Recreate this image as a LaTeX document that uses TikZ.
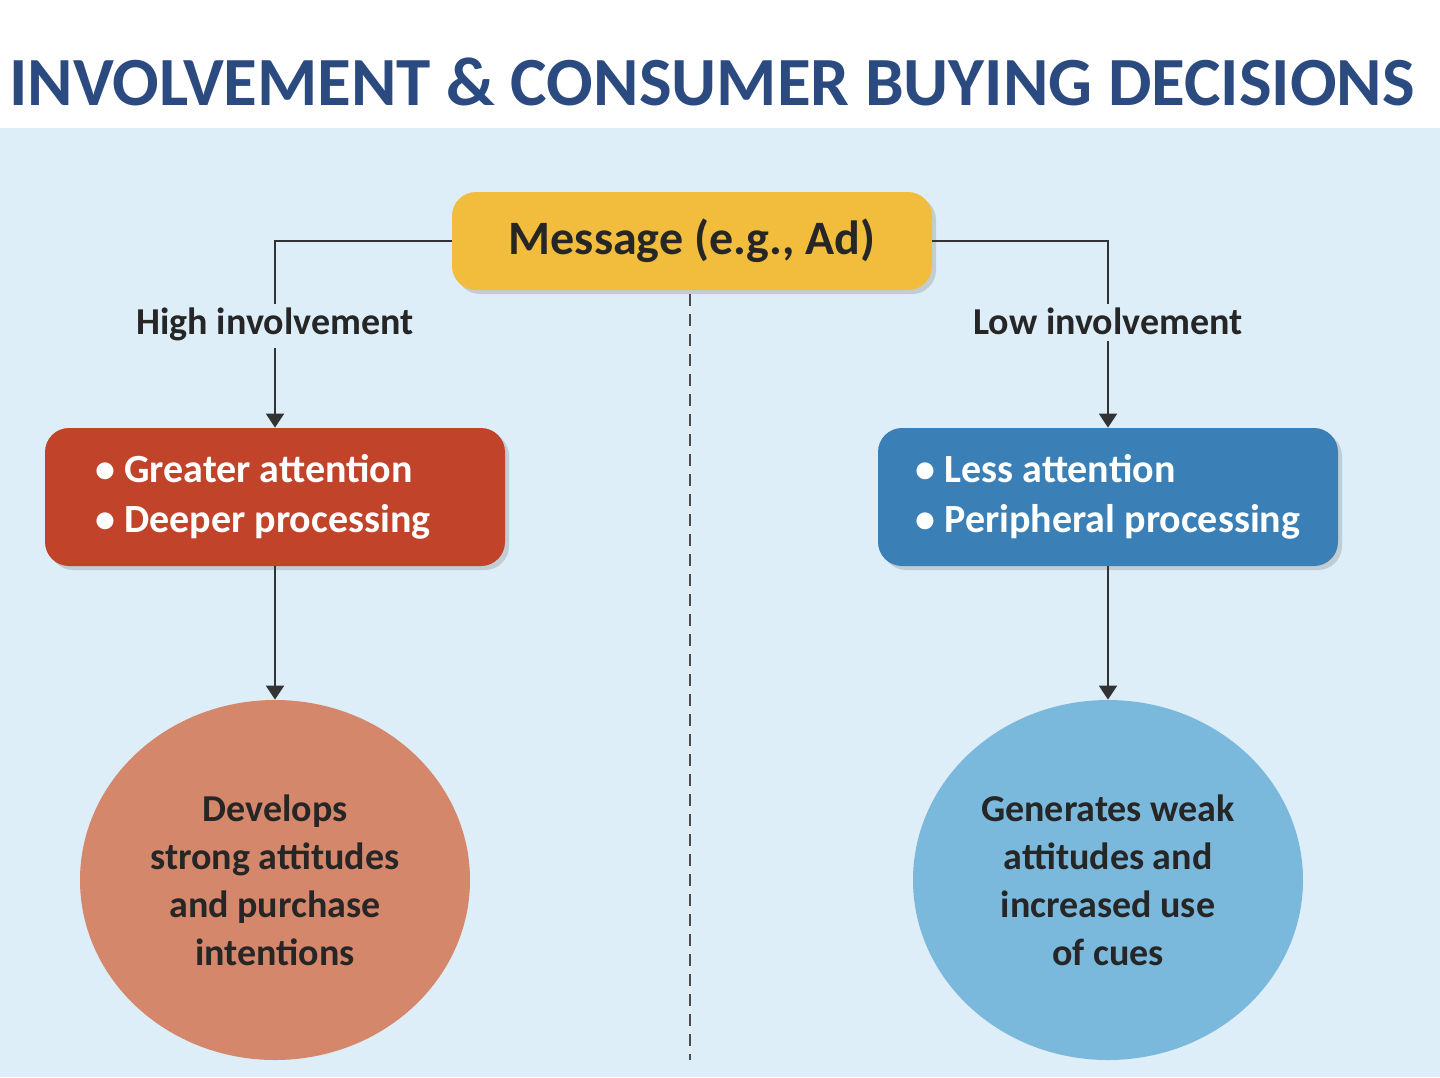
\documentclass[tikz,border=0pt]{standalone}
\usepackage{fontspec}
\setmainfont{Carlito}
\usetikzlibrary{shapes.geometric,shadows,arrows.meta}
\definecolor{titleblue}{HTML}{2A4A80}
\definecolor{bgblue}{HTML}{DEEEF8}
\definecolor{msgyellow}{HTML}{F2BD3C}
\definecolor{hired}{HTML}{C0432A}
\definecolor{lowblue}{HTML}{3A80B6}
\definecolor{circred}{HTML}{D4876A}
\definecolor{circblue}{HTML}{7AB8DC}
\tikzset{
 boxstyle/.style={rounded corners=12pt,minimum width=230pt,minimum height=69pt,text=white,font=\fontsize{20}{25}\selectfont\bfseries,align=left,drop shadow={opacity=0.3,shadow xshift=2pt,shadow yshift=-2pt}},
 circstyle/.style={ellipse,minimum width=195pt,minimum height=180pt,font=\fontsize{19}{24}\selectfont\bfseries,align=center,text=black!85},
 lbl/.style={font=\fontsize{19}{22}\selectfont\bfseries,text=black!85,anchor=base},
 conn/.style={draw=black!80,line width=1pt},
 arr/.style={conn,-{Triangle[width=9pt,length=7pt]}}
}
\begin{document}
\begin{tikzpicture}[x=0.5pt,y=-0.5pt]
\useasboundingbox (0,0) rectangle (1440,1077);
\fill[white] (0,0) rectangle (1440,128);
\fill[bgblue] (0,128) rectangle (1440,1077);
\node[font=\fontsize{34.5}{38}\selectfont\bfseries,text=titleblue] (title) at (712,82) {INVOLVEMENT \& CONSUMER BUYING DECISIONS};
\node[fill=msgyellow,rounded corners=12pt,minimum width=240pt,minimum height=49pt,font=\fontsize{24}{27}\selectfont\bfseries,text=black!85,drop shadow={opacity=0.3,shadow xshift=2pt,shadow yshift=-2pt}] (msg) at (692,241) {Message (e.g., Ad)};
\node[lbl] (hi) at (275,334) {High involvement};
\node[lbl] (lo) at (1108,334) {Low involvement};
\node[boxstyle,fill=hired] (rb) at (275,497) {\hspace*{-12pt}• Greater attention\\\hspace*{-12pt}• Deeper processing};
\node[boxstyle,fill=lowblue] (bb) at (1108,497) {• Less attention\\• Peripheral processing};
\node[circstyle,fill=circred] (rc) at (275,880) {Develops\\strong attitudes\\and purchase\\intentions};
\node[circstyle,fill=circblue] (bc) at (1108,880) {Generates weak\\attitudes and\\increased use\\of cues};
\draw[conn] (msg.west) -| ([yshift=-2pt]hi.north);
\draw[conn] (msg.east) -| ([yshift=-2pt]lo.north);
\draw[arr] (hi.south) -- (rb.north);
\draw[arr] (lo.south) -- (bb.north);
\draw[arr] (rb.south) -- (rc.north);
\draw[arr] (bb.south) -- (bc.north);
\coordinate (d1) at (690,294);
\coordinate (d2) at (690,1060);
\draw[black!70,line width=1pt,dash pattern=on 6pt off 4pt] (d1) -- (d2);
\end{tikzpicture}
\end{document}
